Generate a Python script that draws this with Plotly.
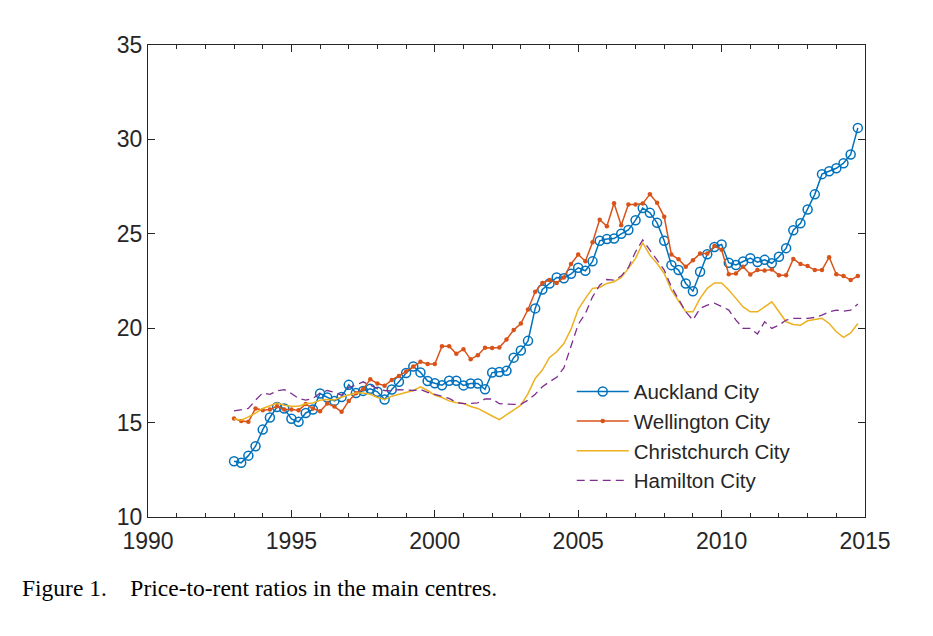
import plotly.graph_objects as go

# Quarterly observations, 1993Q1 .. 2014Q4 (decimal years)
start_year = 1993
n_quarters = 88
years = [start_year + i / 4 for i in range(n_quarters)]

auckland = [
    12.95, 12.87, 13.25, 13.75,
    14.63, 15.27, 15.83, 15.75,
    15.20, 15.04, 15.51, 15.69,
    16.54, 16.33, 16.15, 16.36,
    17.00, 16.57, 16.68, 16.79,
    16.63, 16.22, 16.75, 17.16,
    17.63, 17.97, 17.66, 17.20,
    17.08, 16.98, 17.22, 17.22,
    16.97, 17.07, 17.07, 16.76,
    17.65, 17.68, 17.74, 18.44,
    18.82, 19.33, 21.05, 22.05,
    22.37, 22.69, 22.65, 22.88,
    23.20, 23.04, 23.54, 24.63,
    24.72, 24.75, 25.00, 25.20,
    25.72, 26.36, 26.11, 25.58,
    24.63, 23.34, 23.08, 22.37,
    21.96, 22.99, 23.92, 24.30,
    24.43, 23.47, 23.35, 23.53,
    23.71, 23.50, 23.62, 23.44,
    23.78, 24.24, 25.19, 25.56,
    26.29, 27.09, 28.16, 28.31,
    28.47, 28.74, 29.20, 30.61,
]

wellington = [
    15.22, 15.09, 15.04, 15.75,
    15.66, 15.69, 15.87, 15.69,
    15.69, 15.66, 15.98, 15.75,
    15.60, 16.01, 15.85, 15.57,
    16.15, 16.55, 16.78, 17.29,
    17.07, 16.95, 17.26, 17.47,
    17.70, 17.97, 18.22, 18.10,
    18.10, 19.04, 19.04, 18.65,
    18.89, 18.35, 18.57, 18.97,
    18.95, 18.98, 19.40, 19.90,
    20.25, 20.99, 21.93, 22.40,
    22.55, 22.40, 22.69, 23.40,
    23.90, 23.55, 24.55, 25.75,
    25.40, 26.62, 25.45, 26.55,
    26.55, 26.60, 27.10, 26.64,
    25.90, 23.90, 23.65, 23.25,
    23.60, 23.95, 23.95, 24.35,
    24.15, 22.86, 22.90, 23.26,
    22.85, 23.08, 23.05, 23.11,
    22.81, 22.81, 23.67, 23.40,
    23.29, 23.08, 23.08, 23.76,
    22.86, 22.77, 22.55, 22.77,
]

christchurch = [
    15.20, 15.13, 15.30, 15.50,
    15.75, 15.90, 16.04, 15.92,
    15.87, 15.87, 16.00, 16.04,
    16.18, 16.22, 16.20, 16.36,
    16.45, 16.57, 16.57, 16.50,
    16.33, 16.22, 16.40, 16.50,
    16.60, 16.70, 16.90, 16.70,
    16.45, 16.33, 16.15, 16.05,
    16.02, 15.85, 15.75, 15.57,
    15.35, 15.16, 15.40, 15.66,
    15.92, 16.54, 17.34, 17.78,
    18.45, 18.75, 19.19, 19.95,
    21.00, 21.58, 22.11, 22.16,
    22.37, 22.46, 22.69, 23.17,
    23.70, 24.52, 23.87, 23.43,
    22.90, 22.02, 21.45, 20.87,
    20.87, 21.58, 22.11, 22.40,
    22.40, 22.02, 21.58, 21.13,
    20.87, 20.87, 21.13, 21.40,
    20.87, 20.34, 20.20, 20.16,
    20.39, 20.46, 20.52, 20.25,
    19.81, 19.51, 19.75, 20.25,
]

hamilton = [
    15.62, 15.70, 15.75, 16.19,
    16.57, 16.50, 16.68, 16.75,
    16.54, 16.28, 16.19, 16.28,
    16.57, 16.70, 16.60, 16.45,
    16.86, 16.98, 17.16, 16.98,
    16.80, 16.70, 16.68, 16.75,
    16.72, 16.70, 16.75, 16.60,
    16.50, 16.40, 16.28, 16.07,
    16.00, 16.02, 16.05, 16.25,
    16.25, 16.00, 15.97, 15.97,
    15.97, 16.19, 16.50, 16.90,
    17.16, 17.40, 17.90, 19.00,
    20.20, 20.78, 21.66, 22.28,
    22.58, 22.55, 22.76, 23.22,
    24.05, 24.67, 24.14, 23.61,
    23.08, 22.19, 21.52, 20.87,
    20.43, 21.05, 21.22, 21.33,
    21.15, 20.96, 20.43, 19.99,
    19.99, 19.69, 20.34, 19.99,
    20.16, 20.43, 20.52, 20.52,
    20.52, 20.57, 20.69, 20.87,
    20.96, 20.90, 20.96, 21.28,
]

x_ticks = [1990, 1995, 2000, 2005, 2010, 2015]
y_ticks = [10, 15, 20, 25, 30, 35]
caption = "Figure 1.\u00a0\u00a0\u00a0\u00a0Price-to-rent ratios in the main centres."

axis_color = "#262626"
font_sans = "Liberation Sans, Arial, sans-serif"

fig = go.Figure()
fig.add_trace(go.Scatter(
    x=years, y=auckland, name="Auckland City", mode="lines+markers",
    line=dict(color="#0072BD", width=1.5),
    marker=dict(symbol="circle-open", size=9, color="#0072BD", line=dict(width=1.5, color="#0072BD")),
))
fig.add_trace(go.Scatter(
    x=years, y=wellington, name="Wellington City", mode="lines+markers",
    line=dict(color="#D95319", width=1.5),
    marker=dict(symbol="circle", size=4.5, color="#D95319"),
))
fig.add_trace(go.Scatter(
    x=years, y=christchurch, name="Christchurch City", mode="lines",
    line=dict(color="#EDB120", width=1.5),
))
fig.add_trace(go.Scatter(
    x=years, y=hamilton, name="Hamilton City", mode="lines",
    line=dict(color="#7E2F8E", width=1.3, dash="8px,5px"),
))

fig.update_layout(
    width=933, height=636,
    margin=dict(l=148, r=68, t=45, b=119),
    paper_bgcolor="white", plot_bgcolor="white",
    showlegend=True,
    legend=dict(
        x=0.591, y=0.308, xanchor="left", yanchor="top",
        bgcolor="rgba(255,255,255,0)", borderwidth=0,
        font=dict(family=font_sans, size=20.5, color=axis_color),
        itemwidth=52, tracegroupgap=0,
    ),
    font=dict(family=font_sans, color=axis_color),
    annotations=[dict(
        text=caption, xref="paper", yref="paper",
        x=-0.178, y=-0.151, xanchor="left", yanchor="middle",
        showarrow=False,
        font=dict(family="Liberation Serif, Times New Roman, serif", size=23.5, color="black"),
    )],
)

fig.update_xaxes(
    range=[1990, 2015], tickvals=x_ticks, ticktext=[str(v) for v in x_ticks],
    showgrid=False, zeroline=False,
    showline=True, linecolor=axis_color, linewidth=1, mirror="ticks",
    ticks="inside", ticklen=7, tickwidth=1, tickcolor=axis_color,
    ticklabelstandoff=3,
    tickfont=dict(family=font_sans, size=23, color=axis_color),
    minor=dict(dtick=1, tick0=1990, ticks="inside", ticklen=4, tickwidth=1, tickcolor=axis_color, showgrid=False),
)
fig.update_yaxes(
    range=[10, 35], tickvals=y_ticks, ticktext=[str(v) for v in y_ticks],
    showgrid=False, zeroline=False,
    showline=True, linecolor=axis_color, linewidth=1, mirror="ticks",
    ticks="inside", ticklen=7, tickwidth=1, tickcolor=axis_color,
    tickfont=dict(family=font_sans, size=23, color=axis_color),
)

fig.write_html(
    "out.html",
    config={"displayModeBar": False},
    post_script="document.body.style.margin='0';",
)
